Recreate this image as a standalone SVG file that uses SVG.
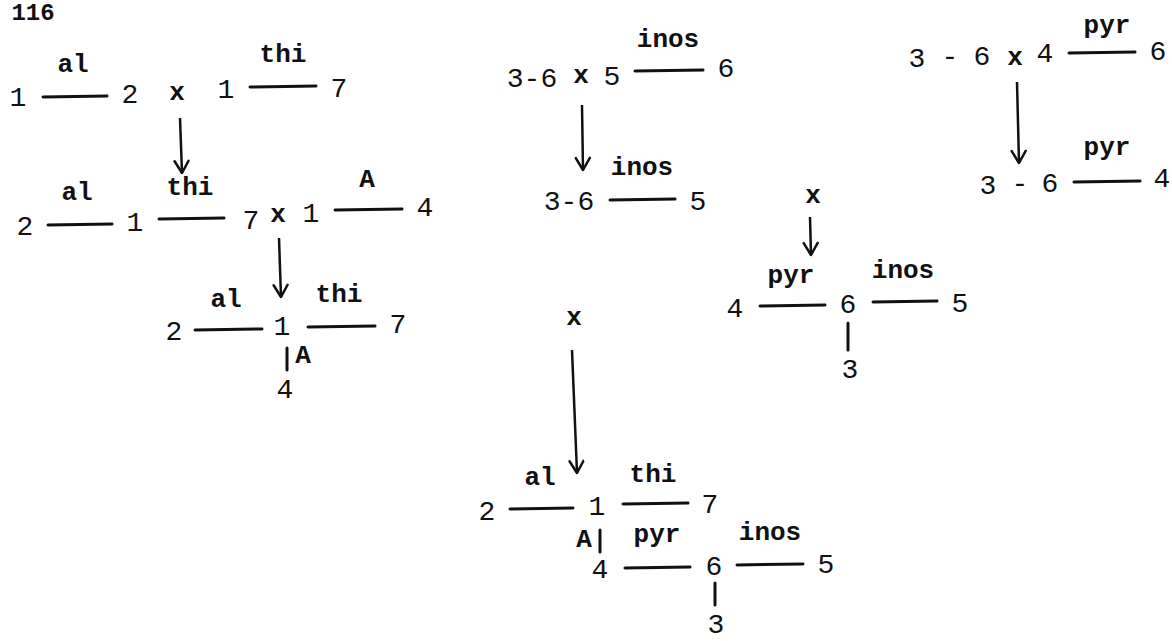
<svg xmlns="http://www.w3.org/2000/svg" width="1172" height="641" viewBox="0 0 1172 641">
  <style>
    .num { font-family: "Liberation Mono", "DejaVu Sans Mono", monospace; font-size: 28px; fill: #111; text-anchor: middle; }
    .lab { font-family: "Liberation Mono", "DejaVu Sans Mono", monospace; font-size: 26px; font-weight: bold; fill: #111; text-anchor: middle; }
    .bar { stroke: #111; stroke-width: 3; stroke-linecap: round; fill: none; }
    .arrow { stroke: #111; stroke-width: 2.5; fill: none; marker-end: url(#head); }
  </style>
  <defs>
    <marker id="head" markerUnits="userSpaceOnUse" markerWidth="20" markerHeight="20" refX="14" refY="8" orient="auto">
      <path d="M2,1 L14,8 L2,15" fill="none" stroke="#111" stroke-width="2.5" stroke-linecap="round" stroke-linejoin="round"/>
    </marker>
  </defs>
  <rect width="1172" height="641" fill="#fff"/>

  <!-- page number -->
  <text class="lab" x="33" y="20" style="font-size:24px">116</text>

  <!-- cross 1: (1 al 2) x (1 thi 7) -->
  <g id="cross-al-thi">
    <text class="num" x="18" y="106">1</text>
    <text class="lab" x="73" y="72">al</text>
    <line class="bar" x1="43" y1="97" x2="107" y2="96"/>
    <text class="num" x="130" y="103">2</text>
    <text class="lab" x="177" y="100">x</text>
    <text class="num" x="226" y="98">1</text>
    <text class="lab" x="283" y="62">thi</text>
    <line class="bar" x1="250" y1="87" x2="316" y2="86"/>
    <text class="num" x="339" y="97">7</text>
  </g>

  <!-- cross 2: (2 al 1 thi 7) x (1 A 4) -->
  <g id="cross-al-thi-A">
    <text class="num" x="25" y="235">2</text>
    <text class="lab" x="77" y="200">al</text>
    <line class="bar" x1="48" y1="225" x2="112" y2="224"/>
    <text class="num" x="135" y="231">1</text>
    <text class="lab" x="190" y="195">thi</text>
    <line class="bar" x1="159" y1="219" x2="224" y2="218"/>
    <text class="num" x="251" y="229">7</text>
    <text class="lab" x="278" y="222">x</text>
    <text class="num" x="311" y="222">1</text>
    <text class="lab" x="367" y="187">A</text>
    <line class="bar" x1="335" y1="210" x2="402" y2="209"/>
    <text class="num" x="425" y="216">4</text>
  </g>

  <!-- map 1: 2 al 1 thi 7, A to 4 -->
  <g id="map-al-thi-A">
    <text class="num" x="174" y="340">2</text>
    <text class="lab" x="226" y="307">al</text>
    <line class="bar" x1="195" y1="330" x2="262" y2="329"/>
    <text class="num" x="282" y="335">1</text>
    <text class="lab" x="339" y="302">thi</text>
    <line class="bar" x1="308" y1="327" x2="375" y2="326"/>
    <text class="num" x="398" y="333">7</text>
    <line class="bar" x1="287" y1="348" x2="287" y2="370"/>
    <text class="lab" x="303" y="363">A</text>
    <text class="num" x="285" y="398">4</text>
  </g>

  <!-- cross 3: 3-6 x (5 inos 6) -->
  <g id="cross-inos">
    <text class="num" x="532" y="87">3-6</text>
    <text class="lab" x="581" y="83">x</text>
    <text class="num" x="612" y="85">5</text>
    <text class="lab" x="668" y="47">inos</text>
    <line class="bar" x1="635" y1="71" x2="703" y2="70"/>
    <text class="num" x="726" y="77">6</text>
  </g>

  <!-- map 2: 3-6 inos 5 -->
  <g id="map-inos">
    <text class="lab" x="642" y="175">inos</text>
    <text class="num" x="569" y="210">3-6</text>
    <line class="bar" x1="610" y1="200" x2="675" y2="199"/>
    <text class="num" x="698" y="210">5</text>
  </g>

  <!-- cross 4: 3 - 6 x (4 pyr 6) -->
  <g id="cross-pyr">
    <text class="num" x="917" y="67">3</text>
    <text class="num" x="950" y="65">-</text>
    <text class="num" x="982" y="65">6</text>
    <text class="lab" x="1015" y="65">x</text>
    <text class="num" x="1045" y="62">4</text>
    <text class="lab" x="1107" y="33">pyr</text>
    <line class="bar" x1="1069" y1="53" x2="1135" y2="52"/>
    <text class="num" x="1158" y="60">6</text>
  </g>

  <!-- map 3: 3 - 6 pyr 4 -->
  <g id="map-pyr">
    <text class="num" x="988" y="194">3</text>
    <text class="num" x="1020" y="192">-</text>
    <text class="num" x="1050" y="192">6</text>
    <text class="lab" x="1107" y="155">pyr</text>
    <line class="bar" x1="1074" y1="182" x2="1140" y2="181"/>
    <text class="num" x="1162" y="187">4</text>
  </g>

  <!-- combined map: 4 pyr 6 inos 5, 3 below 6 -->
  <g id="map-pyr-inos">
    <text class="lab" x="813" y="203">x</text>
    <text class="lab" x="791" y="283">pyr</text>
    <text class="lab" x="903" y="278">inos</text>
    <text class="num" x="735" y="317">4</text>
    <line class="bar" x1="760" y1="306" x2="825" y2="305"/>
    <text class="num" x="848" y="313">6</text>
    <line class="bar" x1="873" y1="302" x2="937" y2="301"/>
    <text class="num" x="960" y="312">5</text>
    <line class="bar" x1="848" y1="323" x2="848" y2="350"/>
    <text class="num" x="850" y="378">3</text>
  </g>

  <!-- final map -->
  <g id="map-final">
    <text class="lab" x="574" y="325">x</text>
    <text class="lab" x="540" y="485">al</text>
    <text class="lab" x="653" y="482">thi</text>
    <text class="num" x="487" y="520">2</text>
    <line class="bar" x1="510" y1="509" x2="573" y2="508"/>
    <text class="num" x="597" y="515">1</text>
    <line class="bar" x1="623" y1="504" x2="688" y2="503"/>
    <text class="num" x="710" y="513">7</text>
    <text class="lab" x="584" y="547">A</text>
    <line class="bar" x1="600" y1="530" x2="600" y2="552"/>
    <text class="lab" x="657" y="542">pyr</text>
    <text class="lab" x="770" y="540">inos</text>
    <text class="num" x="600" y="578">4</text>
    <line class="bar" x1="625" y1="568" x2="690" y2="567"/>
    <text class="num" x="714" y="575">6</text>
    <line class="bar" x1="737" y1="565" x2="803" y2="564"/>
    <text class="num" x="826" y="573">5</text>
    <line class="bar" x1="715" y1="583" x2="715" y2="605"/>
    <text class="num" x="716" y="633">3</text>
  </g>

  <!-- arrows from each cross to its result -->
  <g id="connectors">
    <line class="arrow" x1="180" y1="118" x2="182" y2="173"/>
    <line class="arrow" x1="279" y1="238" x2="281" y2="297"/>
    <line class="arrow" x1="582" y1="105" x2="583" y2="170"/>
    <line class="arrow" x1="1017" y1="82" x2="1019" y2="163"/>
    <line class="arrow" x1="810" y1="217" x2="811" y2="255"/>
    <line class="arrow" x1="572" y1="350" x2="577" y2="473"/>
  </g>
</svg>
